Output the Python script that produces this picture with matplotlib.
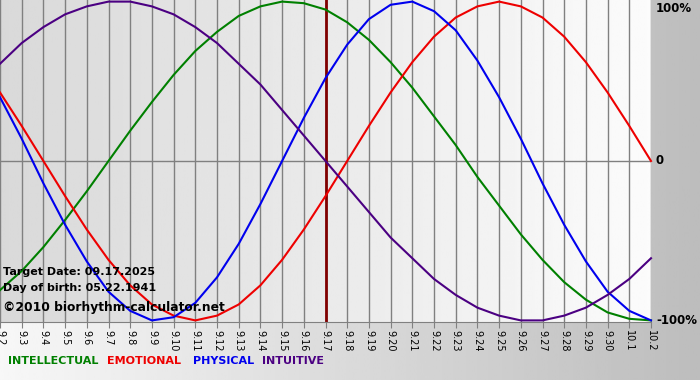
import numpy as np
import matplotlib
matplotlib.use("Agg")
from matplotlib import pyplot as plt
from matplotlib import transforms

# days shown (9.2 .. 10.2)
days = ["9.2", "9.3", "9.4", "9.5", "9.6", "9.7", "9.8", "9.9", "9.10", "9.11",
        "9.12", "9.13", "9.14", "9.15", "9.16", "9.17", "9.18", "9.19", "9.20", "9.21",
        "9.22", "9.23", "9.24", "9.25", "9.26", "9.27", "9.28", "9.29", "9.30", "10.1", "10.2"]

# cycle values (-1 .. 1)
intellectual = [-0.81, -0.69, -0.54, -0.37, -0.19, 0.00, 0.19, 0.37, 0.54, 0.69,
                0.81, 0.91, 0.97, 1.00, 0.99, 0.95, 0.87, 0.76, 0.62, 0.46,
                0.28, 0.10, -0.10, -0.28, -0.46, -0.62, -0.76, -0.87, -0.95, -0.99, -1.00]
emotional = [0.43, 0.22, 0.00, -0.22, -0.43, -0.62, -0.78, -0.90, -0.97, -1.00,
             -0.97, -0.90, -0.78, -0.62, -0.43, -0.22, 0.00, 0.22, 0.43, 0.62,
             0.78, 0.90, 0.97, 1.00, 0.97, 0.90, 0.78, 0.62, 0.43, 0.22, 0.00]
physical = [0.40, 0.14, -0.14, -0.40, -0.63, -0.82, -0.94, -1.00, -0.98, -0.89,
            -0.73, -0.52, -0.27, 0.00, 0.27, 0.52, 0.73, 0.89, 0.98, 1.00,
            0.94, 0.82, 0.63, 0.40, 0.14, -0.14, -0.40, -0.63, -0.82, -0.94, -1.00]
intuitive = [0.61, 0.74, 0.84, 0.92, 0.97, 1.00, 1.00, 0.97, 0.92, 0.84,
             0.74, 0.61, 0.48, 0.32, 0.16, 0.00, -0.16, -0.32, -0.48, -0.61,
             -0.74, -0.84, -0.92, -0.97, -1.00, -1.00, -0.97, -0.92, -0.84, -0.74, -0.61]

series_names = ["INTELLECTUAL", "EMOTIONAL", "PHYSICAL", "INTUITIVE"]
series_colors = ["#008000", "#ee0000", "#0000ee", "#4b0082"]
target_idx = days.index("9.17")
level_vals = [1, 0, -1]
level_labels = ["100%", "0", "-100%"]
info_lines = ["Target Date: 09.17.2025", "Day of birth: 05.22.1941"]
site = "\u00a92010 biorhythm-calculator.net"

W, H = 700, 380
fig = plt.figure(figsize=(W / 100, H / 100), dpi=100)

# outer background: light on the left, gray on the right
bg = fig.add_axes([0, 0, 1, 1], zorder=-1)
grad = np.linspace(0.97, 0.74, 256).reshape(1, -1)
bg.imshow(grad, cmap="gray", vmin=0, vmax=1, aspect="auto", extent=[0, 1, 0, 1])
bg.set_axis_off()

# plot area
ax = fig.add_axes([0, 1 - 322 / H, 651 / W, 322 / H])
x = np.arange(len(days))
ax.set_xlim(0, len(days) - 1)
ax.set_ylim(-1.01, 1.01)
inner = np.linspace(0.85, 0.985, 256).reshape(1, -1)
ax.imshow(inner, cmap="gray", vmin=0, vmax=1, aspect="auto",
          extent=[0, len(days) - 1, -1.01, 1.01], zorder=0)

ax.set_xticks(x)
ax.set_xticklabels(days, rotation=270, fontsize=7)
ax.tick_params(axis="x", direction="out", length=4, color="#808080", pad=2)
ax.set_yticks([])
ax.grid(axis="x", color="#808080", lw=1)
ax.set_axisbelow(True)
for s in ["top", "left", "right"]:
    ax.spines[s].set_visible(False)
ax.spines["bottom"].set_color("#808080")
ax.axhline(0, color="#808080", lw=1, zorder=1)
ax.axvline(target_idx, color="#800000", lw=2, zorder=2)

for vals, c in zip([intellectual, emotional, physical, intuitive], series_colors):
    ax.plot(x, vals, color=c, lw=1.5, zorder=3, clip_on=False,
            solid_joinstyle="round")

# right hand level labels
tr = transforms.blended_transform_factory(fig.transFigure, ax.transData)
for v, lab in zip(level_vals, level_labels):
    va = "top" if v == 1 else "center"
    ax.text(656 / W, v, lab, transform=tr, fontsize=8.5, fontweight="bold",
            va=va, ha="left", clip_on=False)

# info text in the lower left
for i, t in enumerate(info_lines):
    fig.text(3 / W, 1 - (272 + 16 * i) / H, t, fontsize=8, fontweight="bold",
             va="center")
fig.text(3 / W, 1 - 307 / H, site, fontsize=8.8, fontweight="bold", va="center")

# legend as coloured words
xpos = [8, 107, 193, 262]
for name, c, px in zip(series_names, series_colors, xpos):
    fig.text(px / W, 1 - 361 / H, name, color=c, fontsize=8, fontweight="bold",
             va="center")

fig.savefig("out.png", dpi=100)
